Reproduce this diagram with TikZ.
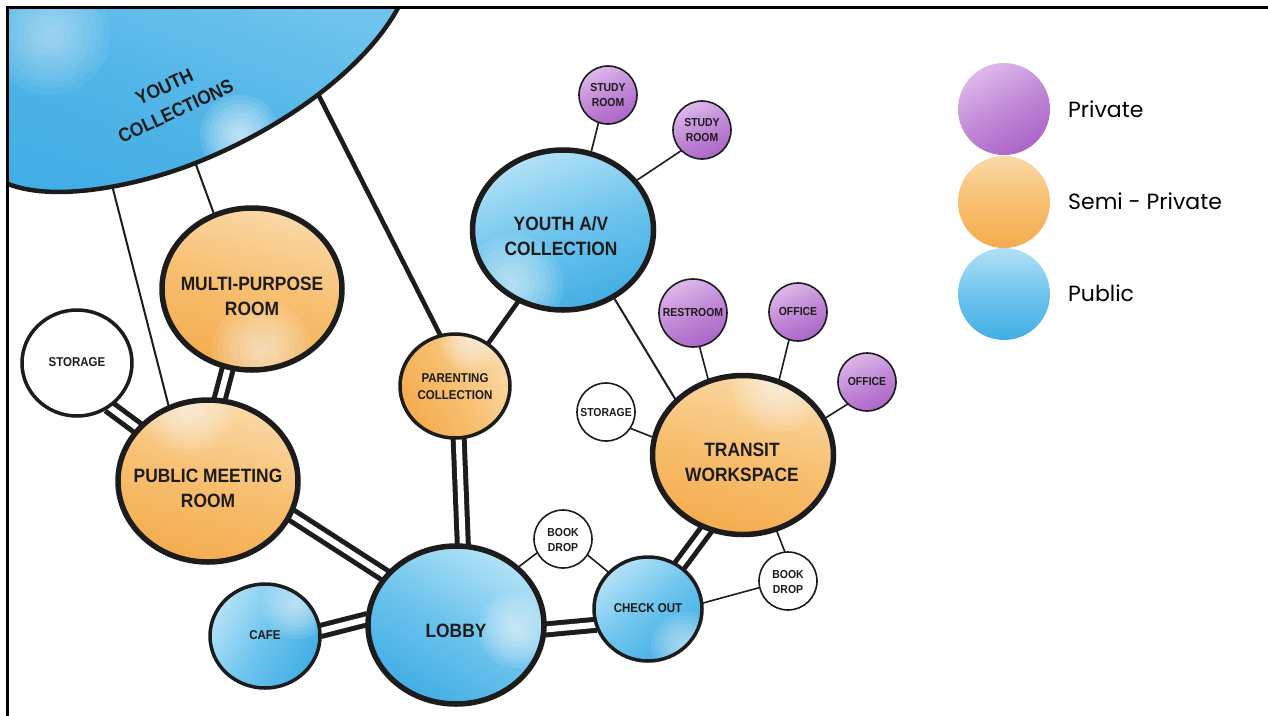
\documentclass[tikz,border=0pt]{standalone}
\usepackage{fontspec}
\newfontfamily\labfont{Liberation Sans}[FakeStretch=0.9]
\newfontfamily\legfont{Poppins}
\usetikzlibrary{shapes.geometric,backgrounds}
\definecolor{bD}{HTML}{42AEE5}
\definecolor{bM}{HTML}{6EC4ED}
\definecolor{bL}{HTML}{B3E2F6}
\definecolor{oD}{HTML}{F4AC4E}
\definecolor{oM}{HTML}{F7BF70}
\definecolor{oL}{HTML}{FAD9A8}
\definecolor{pD}{HTML}{AB65C8}
\definecolor{pM}{HTML}{C189D6}
\definecolor{pL}{HTML}{DDB8EA}
\definecolor{ink}{HTML}{1C1C1C}
\begin{document}
\begin{tikzpicture}[x=1pt,y=-1pt,
  room/.style={ellipse, draw=ink, inner sep=0pt, outer sep=0pt},
  bigroom/.style={room, line width=5.5pt},
  midroom/.style={room, line width=3.5pt},
  smallroom/.style={room, line width=1.6pt, minimum width=58pt, minimum height=58pt},
  bluewash/.style={top color=bL, bottom color=bD, middle color=bM, shading angle=#1},
  bluewash/.default=20,
  orangewash/.style={top color=oL, bottom color=oD, middle color=oM, shading angle=#1},
  orangewash/.default=-15,
  purplewash/.style={top color=pL, bottom color=pD, middle color=pM, shading angle=#1},
  purplewash/.default=25,
  wpatch/.style n args={3}{path picture={\foreach \k in {1,...,9}{\fill[white, fill opacity=0.085]
      ([shift={(#1,#2)}]path picture bounding box.center) circle ({#3*\k/9});}}},
  biglab/.style={font=\labfont\bfseries\fontsize{19.3}{25}\selectfont, text=ink, align=center, inner sep=0pt},
  midlab/.style={font=\labfont\bfseries\fontsize{12.8}{17}\selectfont, text=ink, align=center, inner sep=0pt},
  smalllab/.style={font=\labfont\bfseries\fontsize{11.6}{15}\selectfont, text=ink, align=center, inner sep=0pt},
  leglab/.style={font=\legfont\fontsize{22}{25}\selectfont, text=black, anchor=west, inner sep=0pt},
  dbl/.style={draw=ink, line width=5pt, double=white, double distance=6pt},
  heavylink/.style={draw=ink, line width=4.6pt},
  thinlink/.style={draw=ink, line width=2pt},
  tinylink/.style={draw=ink, line width=1.6pt}
]
\useasboundingbox (0,0) rectangle (1268,715);
\begin{pgfonlayer}{background}
\fill[white] (0,0) rectangle (1268,715);
\end{pgfonlayer}

% Youth collections (cut by the frame)
\begin{scope}
\clip (8,8) -- (398,8) .. controls (365,68) and (285,128) .. (193,164)
  .. controls (147,182) and (60,204) .. (8,184) -- cycle;
\fill[top color=bM, bottom color=bD, middle color=bD!85!bL, shading angle=-20] (0,0) rectangle (400,200);
\foreach \k in {1,...,9}{\fill[white, fill opacity=0.1] (240,135) circle ({40*\k/9});}
\foreach \k in {1,...,9}{\fill[white, fill opacity=0.06] (50,35) circle ({60*\k/9});}
\end{scope}
\draw[line width=4.5pt, draw=ink] (398,8) .. controls (365,68) and (285,128) .. (193,164)
  .. controls (147,182) and (60,204) .. (8,184);
\coordinate (yca) at (113,189);
\coordinate (ycb) at (195,162);
\coordinate (ycc) at (318,94);
\node[biglab, rotate=25, font=\labfont\bfseries\fontsize{19.3}{27}\selectfont] (yct) at (170,99) {YOUTH\\COLLECTIONS};

% frame
\draw[line width=2.5pt, draw=black] (7.5,716) -- (7.5,7.5) -- (1269,7.5);

% rooms
\node[bigroom, orangewash, wpatch={10}{62}{50}, minimum width=180pt, minimum height=162pt] (mpr) at (252,289) {};
\node[biglab] (mprt) at (252,296) {MULTI-PURPOSE\\ROOM};
\node[bigroom, orangewash, wpatch={-20}{-72}{45}, minimum width=180pt, minimum height=162pt] (pmr) at (208,481) {};
\node[biglab] (pmrt) at (208,488) {PUBLIC MEETING\\ROOM};
\node[midroom, fill=white, minimum width=110pt, minimum height=106pt] (stl) at (77,363) {};
\node[midlab] (stlt) at (77,362) {STORAGE};
\node[midroom, orangewash=-60, wpatch={15}{-45}{30}, minimum width=110pt, minimum height=104pt] (par) at (455,386) {};
\node[midlab] (part) at (455,386.5) {PARENTING\\COLLECTION};
\node[bigroom, bluewash, wpatch={-50}{55}{50}, minimum width=181pt, minimum height=160pt] (yav) at (563,230) {};
\node[biglab] (yavt) at (561,236.5) {YOUTH A/V\\COLLECTION};
\node[smallroom, purplewash] (sr1) at (608,95) {};
\node[smalllab] (sr1t) at (608,95.5) {STUDY\\ROOM};
\node[smallroom, purplewash] (sr2) at (702,130) {};
\node[smalllab] (sr2t) at (702,130.5) {STUDY\\ROOM};
\node[smallroom, purplewash, minimum width=68pt, minimum height=68pt] (rest) at (693,313) {};
\node[smalllab] (restt) at (693,313) {RESTROOM};
\node[smallroom, purplewash] (of1) at (798,312) {};
\node[smalllab] (of1t) at (798,312) {OFFICE};
\node[smallroom, purplewash] (of2) at (867,382) {};
\node[smalllab] (of2t) at (867,382) {OFFICE};
\node[bigroom, orangewash, wpatch={35}{-68}{45}, minimum width=181pt, minimum height=159pt] (tw) at (743,455) {};
\node[biglab] (twt) at (742,462) {TRANSIT\\WORKSPACE};
\node[smallroom, fill=white] (str) at (606,412) {};
\node[smalllab] (strt) at (606,412) {STORAGE};
\node[midroom, bluewash=40, wpatch={38}{38}{35}, minimum width=108pt, minimum height=104pt] (chk) at (648,609) {};
\node[midlab] (chkt) at (648,608.5) {CHECK OUT};
\node[smallroom, fill=white] (bd1) at (563,539) {};
\node[smalllab] (bd1t) at (563,539.5) {BOOK\\DROP};
\node[smallroom, fill=white] (bd2) at (788,581) {};
\node[smalllab] (bd2t) at (788,581.5) {BOOK\\DROP};
\node[bigroom, bluewash=-30, wpatch={60}{5}{38}, minimum width=176pt, minimum height=158pt] (lob) at (456,625) {};
\node[biglab] (lobt) at (456,631) {LOBBY};
\node[midroom, bluewash=60, wpatch={32}{-32}{35}, minimum width=110pt, minimum height=104pt] (cafe) at (265,636) {};
\node[midlab] (cafet) at (265,635) {CAFE};

% legend
\node[circle, inner sep=0pt, minimum size=92pt, purplewash=30] (lgp) at (1004,109) {};
\node[circle, inner sep=0pt, minimum size=92pt, orangewash=0] (lgs) at (1004,202) {};
\node[circle, inner sep=0pt, minimum size=92pt, bluewash=0] (lgb) at (1004,294) {};
\node[leglab] (lgpt) at (1068,109) {Private};
\node[leglab] (lgst) at (1068,201) {Semi - Private};
\node[leglab] (lgbt) at (1068,293) {Public};

% connectors
\begin{pgfonlayer}{background}
\draw[dbl] (stl.306) -- (pmr.143);
\draw[dbl] (mpr.253) -- (pmr.82);
\draw[dbl] (pmr.338) -- (lob.145);
\draw[dbl] (cafe.5) -- (lob.176);
\draw[dbl] (par.274) -- (lob.85);
\draw[dbl] (lob.357) -- (chk.197);
\draw[dbl] (chk.54) -- (tw.244);
\draw[thinlink] (yca) -- (pmr.118);
\draw[thinlink] (ycb) -- (mpr.117);
\draw[heavylink] (ycc) -- (par.106);
\draw[heavylink] (par.52) -- (yav.238);
\draw[thinlink] (yav.307) -- (tw.141);
\draw[tinylink] (yav.70) -- (sr1.251);
\draw[tinylink] (yav.34) -- (sr2.225);
\draw[tinylink] (rest.281) -- (tw.115);
\draw[tinylink] (of1.252) -- (tw.64);
\draw[tinylink] (of2.229) -- (tw.24);
\draw[tinylink] (str.326) -- (tw.169);
\draw[tinylink] (lob.43) -- (bd1.208);
\draw[tinylink] (bd1.327) -- (chk.137);
\draw[tinylink] (chk.6) -- (bd2.193);
\draw[tinylink] (tw.294) -- (bd2.96);
\end{pgfonlayer}
\end{tikzpicture}
\end{document}
